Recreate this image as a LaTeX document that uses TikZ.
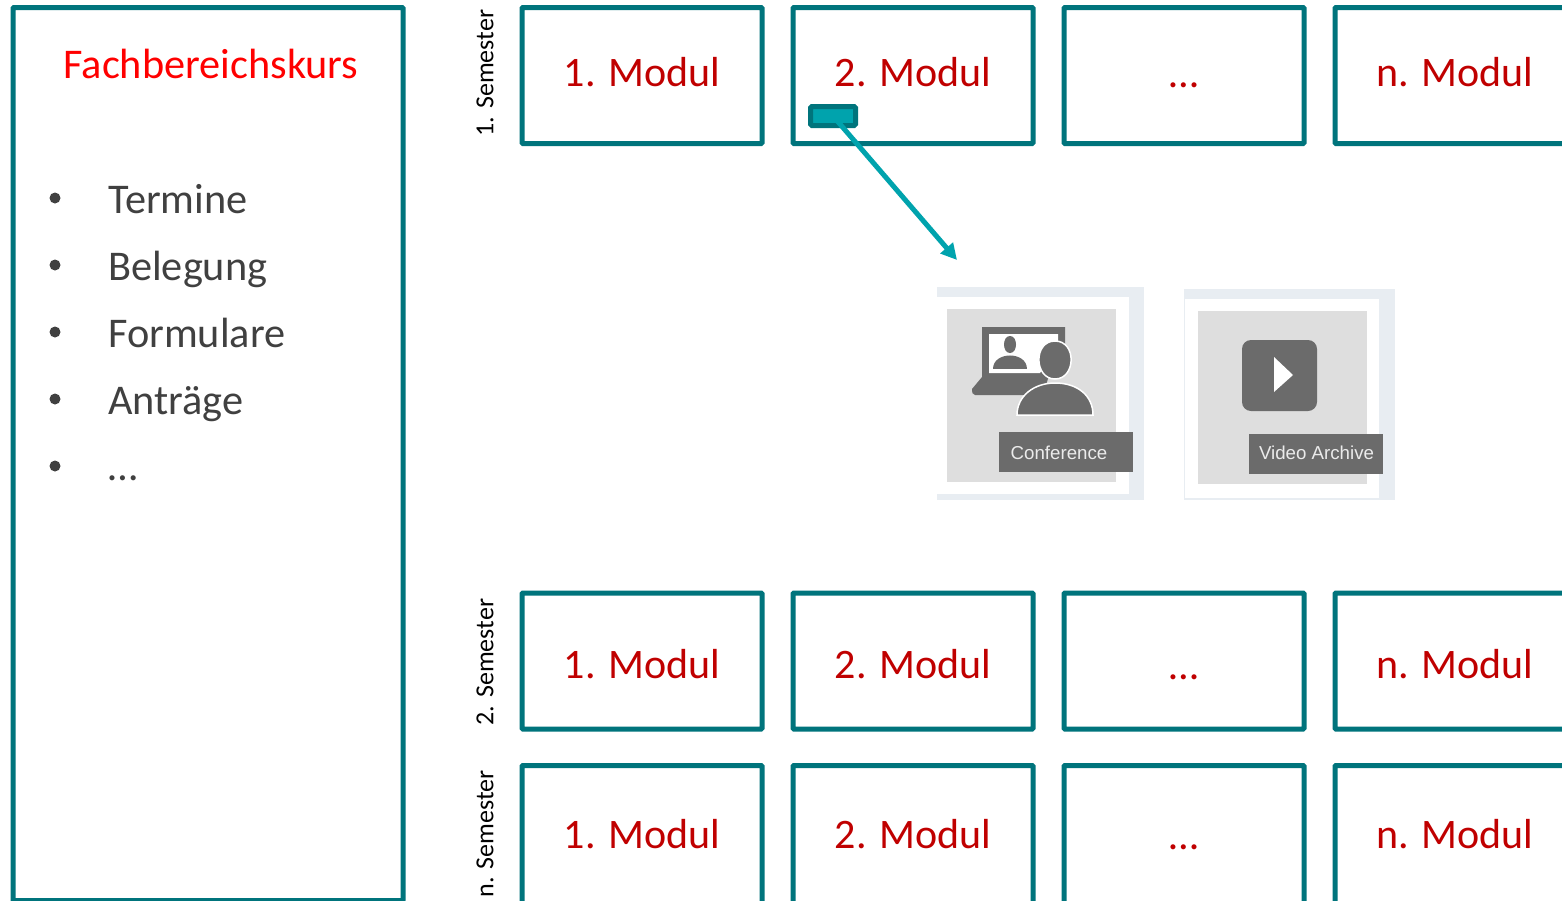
\documentclass[tikz,border=0pt]{standalone}
\usepackage{fontspec}
\setmainfont{Carlito}
\newfontfamily\uifont{Liberation Sans}
\usetikzlibrary{arrows.meta}
\definecolor{tealb}{HTML}{00747C}
\definecolor{tealf}{HTML}{00A3AD}
\definecolor{modred}{HTML}{C00000}
\definecolor{txtgray}{HTML}{404040}
\definecolor{panelb}{HTML}{E8EDF2}
\definecolor{panelg}{HTML}{DEDEDE}
\definecolor{icong}{HTML}{6B6B6B}
\tikzset{
  modbox/.style={draw=tealb,line width=5pt,fill=white,rounded corners=1pt,anchor=north west,inner sep=0pt,outer sep=0pt,minimum width=240pt},
  semlabel/.style={rotate=90,font=\fontsize{26}{30}\selectfont,text=black,inner sep=0pt,anchor=center},
  listitem/.style={font=\fontsize{42.3}{46}\selectfont,text=txtgray,anchor=base west,inner sep=0pt},
  bulletdot/.style={circle,fill=txtgray,minimum size=11pt,inner sep=0pt},
  tagbox/.style={fill=icong,inner sep=0pt,outer sep=0pt,anchor=north west,minimum width=134pt,minimum height=40pt},
  tagtext/.style={text=white!92!black,inner sep=0pt,font=\uifont\fontsize{18.7}{22}\selectfont},
}
\begin{document}
\begin{tikzpicture}[x=1pt,y=-1pt]
\useasboundingbox (0,0) rectangle (1562,900);
\clip (0,0) rectangle (1562,900);
\fill[white] (0,0) rectangle (1562,900);
% left panel
\node[modbox,minimum width=390pt,minimum height=893pt] (panel) at (13,7.5) {};
\node[font=\fontsize{42.3}{46}\selectfont,text=red,anchor=base,inner sep=0pt] (title) at (211,78) {Fachbereichskurs};
\node[bulletdot] (b1) at (55,198) {};
\node[bulletdot] (b2) at (55,265) {};
\node[bulletdot] (b3) at (55,332) {};
\node[bulletdot] (b4) at (55,399) {};
\node[bulletdot] (b5) at (55,466) {};
\node[listitem] (l1) at (108,213.5) {Termine};
\node[listitem] (l2) at (108,280.5) {Belegung};
\node[listitem] (l3) at (108,347.5) {Formulare};
\node[listitem] (l4) at (108,414.5) {Anträge};
\node[listitem] (l5) at (108,480.5) {…};
% semester labels
\node[semlabel] (s1) at (485,73) {1. Semester};
\node[semlabel] (s2) at (485,662) {2. Semester};
\node[semlabel] (s3) at (485,834) {n. Semester};
% rows
\foreach \rw/\y/\h/\ty/\ey in {a/7.5/136/72/85.5,b/593/136/664/677.5,c/765.5/170/834/847.5}{
  \foreach \cl/\x/\tx/\txt in {1/522/642/1. Modul,2/793/913/2. Modul,4/1335/1455/n. Modul}{
    \node[modbox,minimum height=\h pt] (m\rw\cl) at (\x,\y) {};
    \node[text=modred,font=\fontsize{42}{50}\selectfont,inner sep=0pt] (t\rw\cl) at (\tx,\ty) {\txt};
  }
  \node[modbox,minimum height=\h pt] (m\rw3) at (1064,\y) {};
  \node[text=modred,font=\fontsize{42}{50}\selectfont,inner sep=0pt] (t\rw3) at (1184,\ey) {…};
}
% small button and arrow
\node[draw=tealb,fill=tealf,line width=5pt,rounded corners=1.5pt,anchor=north west,inner sep=0pt,outer sep=0pt,minimum width=45pt,minimum height=19pt] (btn) at (810.5,106.5) {};
\coordinate (atip) at (957,260);
\draw[draw=tealf,line width=5pt,-{Triangle[length=16pt,width=16pt]}] (btn.center) -- (atip);
% conference card
\fill[panelb] (937,287) rectangle (1144,500);
\fill[white] (937,297) rectangle (1129,494);
\fill[panelg] (947,309) rectangle (1116,482);
\fill[icong] (982,327) -- (1065,327) -- (1065,345) -- (1050,372) -- (1043,395) -- (975,395) .. controls (972,395) and (972,392) .. (972,389) -- (982,377) -- cycle;
\fill[white] (989,334) -- (1058,334) -- (1058,345) -- (1040,373) -- (989,373) -- cycle;
\fill[icong] (1010,336) .. controls (1002,336) and (1002,353) .. (1010,353) .. controls (1018,353) and (1018,336) .. (1010,336) -- cycle;
\fill[icong] (993,369) .. controls (993,351) and (1027,351) .. (1027,369) -- cycle;
\draw[white,line width=1.5pt,fill=icong] (1055,341) .. controls (1033,341) and (1034,379) .. (1055,379) .. controls (1076,379) and (1077,341) .. (1055,341) -- cycle;
\draw[white,line width=1.5pt,fill=icong] (1017,415) .. controls (1017,396) and (1034,383) .. (1055,383) .. controls (1078,383) and (1093,396) .. (1093,415) -- cycle;
\fill[panelg] (1010,415.7) rectangle (1100,420);
\node[tagbox] (conf) at (999,432) {};
\node[tagtext] (conft) at (1059,452.5) {Conference};
% video card
\fill[panelb] (1184,289) rectangle (1395,500);
\fill[white] (1185,299) rectangle (1379,498);
\fill[panelg] (1198,311) rectangle (1367,484);
\fill[icong,rounded corners=9pt] (1242,340) rectangle (1317,411);
\fill[white] (1274,357) -- (1293,375) -- (1274,392) -- cycle;
\node[tagbox] (vid) at (1249,434) {};
\node[tagtext] (vidt) at (1316.5,453) {Video Archive};
\end{tikzpicture}
\end{document}
